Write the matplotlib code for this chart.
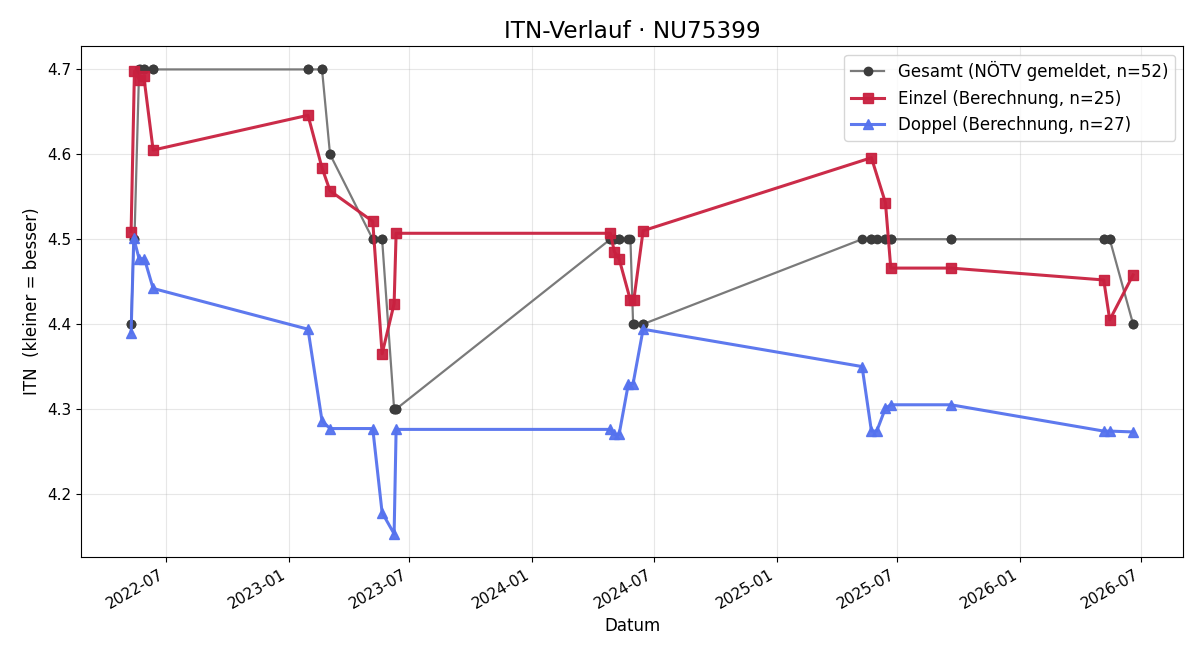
import pandas as pd
import matplotlib
matplotlib.use("Agg")
from matplotlib import pyplot as plt
import matplotlib.dates as mdates

# Einzel (Berechnung)
einzel_dates = ["2022-05-10", "2022-05-15", "2022-05-23", "2022-05-29", "2022-06-12",
                "2023-01-30", "2023-02-20", "2023-03-04", "2023-05-07", "2023-05-21", "2023-06-08", "2023-06-11",
                "2024-04-27", "2024-05-03", "2024-05-10", "2024-05-27", "2024-06-01", "2024-06-15",
                "2025-05-23", "2025-06-13", "2025-06-21", "2025-09-19",
                "2026-05-06", "2026-05-15", "2026-06-19"]
einzel_itn = [4.509, 4.698, 4.687, 4.692, 4.605,
              4.646, 4.584, 4.557, 4.521, 4.365, 4.424, 4.507,
              4.507, 4.485, 4.477, 4.428, 4.428, 4.510,
              4.596, 4.543, 4.466, 4.466,
              4.452, 4.405, 4.458]

# Doppel (Berechnung)
doppel_dates = ["2022-05-10", "2022-05-14", "2022-05-22", "2022-05-30", "2022-06-12",
                "2023-01-30", "2023-02-20", "2023-03-04", "2023-05-07", "2023-05-21", "2023-06-08", "2023-06-11",
                "2024-04-27", "2024-05-03", "2024-05-10", "2024-05-24", "2024-05-31", "2024-06-15",
                "2025-05-09", "2025-05-23", "2025-05-31", "2025-06-13", "2025-06-21", "2025-09-19",
                "2026-05-06", "2026-05-15", "2026-06-19"]
doppel_itn = [4.390, 4.501, 4.477, 4.477, 4.442,
              4.394, 4.286, 4.277, 4.277, 4.178, 4.153, 4.276,
              4.276, 4.270, 4.270, 4.330, 4.330, 4.394,
              4.350, 4.274, 4.274, 4.301, 4.305, 4.305,
              4.274, 4.274, 4.273]

# Gesamt (NÖTV gemeldet)
gesamt_dates = ["2022-05-10", "2022-05-10", "2022-05-14", "2022-05-15", "2022-05-22",
                "2022-05-23", "2022-05-29", "2022-05-30", "2022-06-12", "2022-06-12",
                "2023-01-30", "2023-01-30", "2023-02-20", "2023-02-20", "2023-03-04", "2023-03-04",
                "2023-05-07", "2023-05-07", "2023-05-21", "2023-05-21", "2023-06-08", "2023-06-08",
                "2023-06-11", "2023-06-11",
                "2024-04-27", "2024-04-27", "2024-05-03", "2024-05-03", "2024-05-10", "2024-05-10",
                "2024-05-24", "2024-05-27", "2024-05-31", "2024-06-01", "2024-06-15", "2024-06-15",
                "2025-05-09", "2025-05-23", "2025-05-23", "2025-05-31", "2025-06-13", "2025-06-13",
                "2025-06-21", "2025-06-21", "2025-09-19", "2025-09-19",
                "2026-05-06", "2026-05-06", "2026-05-15", "2026-05-15", "2026-06-19", "2026-06-19"]
gesamt_itn = [4.4, 4.4, 4.5, 4.5, 4.7, 4.7, 4.7, 4.7, 4.7, 4.7,
              4.7, 4.7, 4.7, 4.7, 4.6, 4.6, 4.5, 4.5, 4.5, 4.5, 4.3, 4.3, 4.3, 4.3,
              4.5, 4.5, 4.5, 4.5, 4.5, 4.5, 4.5, 4.5, 4.4, 4.4, 4.4, 4.4,
              4.5, 4.5, 4.5, 4.5, 4.5, 4.5, 4.5, 4.5, 4.5, 4.5,
              4.5, 4.5, 4.5, 4.5, 4.4, 4.4]

fig, ax = plt.subplots(figsize=(12, 6.6), dpi=100)

ax.plot(pd.to_datetime(gesamt_dates), gesamt_itn, color="#7a7a7a", lw=1.6,
        marker="o", ms=6, mfc="#3c3c3c", mec="#3c3c3c",
        label=f"Gesamt (NÖTV gemeldet, n={len(gesamt_itn)})")
ax.plot(pd.to_datetime(einzel_dates), einzel_itn, color="#c9203f", lw=2.2,
        marker="s", ms=7, alpha=0.95,
        label=f"Einzel (Berechnung, n={len(einzel_itn)})")
ax.plot(pd.to_datetime(doppel_dates), doppel_itn, color="#5572ee", lw=2.2,
        marker="^", ms=7, alpha=0.95,
        label=f"Doppel (Berechnung, n={len(doppel_itn)})")

ax.set_title("ITN-Verlauf · NU75399", fontsize=16.7)
ax.set_xlabel("Datum", fontsize=12)
ax.set_ylabel("ITN  (kleiner = besser)", fontsize=12)
ax.grid(True, alpha=0.3)
ax.legend(loc="upper right", fontsize=12)

ax.xaxis.set_major_locator(mdates.MonthLocator(bymonth=[1, 7]))
ax.xaxis.set_major_formatter(mdates.DateFormatter("%Y-%m"))
ax.tick_params(labelsize=11)
fig.autofmt_xdate()

fig.subplots_adjust(left=0.0675, right=0.986, top=0.930, bottom=0.156)
plt.savefig("out.png")
